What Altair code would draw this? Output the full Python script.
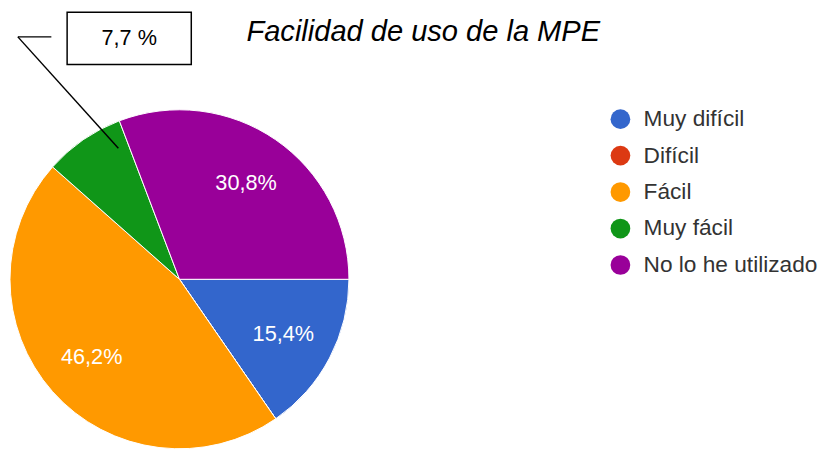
import math
import altair as alt
import pandas as pd

categories = ["Muy difícil", "Difícil", "Fácil", "Muy fácil", "No lo he utilizado"]
counts = [2, 0, 6, 1, 4]
colors = ["#3366CC", "#DC3912", "#FF9900", "#109618", "#990099"]
title_text = "Facilidad de uso de la MPE"

total = sum(counts)
pct = [c / total * 100 for c in counts]
labels = [f"{p:.1f}%".replace(".", ",") if p >= 10 else "" for p in pct]
callout_text = f"{pct[3]:.1f} %".replace(".", ",")

df = pd.DataFrame({"cat": categories, "n": counts, "idx": list(range(len(categories))), "label": labels})

FONT = "Liberation Sans"
theta_scale = alt.Scale(range=[math.pi / 2, math.pi / 2 + 2 * math.pi])
cx, cy = 171, 272

base = alt.Chart(df).encode(
    theta=alt.Theta("n:Q", stack=True, scale=theta_scale),
    order=alt.Order("idx:Q"),
    x=alt.value(cx),
    y=alt.value(cy),
)

pie = base.mark_arc(outerRadius=172, stroke="white", strokeWidth=1).encode(
    color=alt.Color(
        "cat:N",
        sort=categories,
        scale=alt.Scale(domain=categories, range=colors),
        legend=alt.Legend(
            title=None,
            orient="none",
            legendX=607,
            legendY=98,
            symbolType="circle",
            symbolSize=400,
            symbolStrokeWidth=0,
            labelFontSize=23,
            labelFont=FONT,
            labelColor="#333333",
            labelOffset=12,
            labelLimit=400,
            rowPadding=13,
            padding=0,
        ),
    )
)

pie_text = base.mark_text(
    radius=119, fontSize=22, color="white", font=FONT
).encode(text="label:N")

title = alt.Chart(pd.DataFrame({"t": [title_text]})).mark_text(
    align="left", baseline="alphabetic", fontSize=29.5, fontStyle="italic", font=FONT, color="black"
).encode(x=alt.value(239), y=alt.value(30), text="t:N")

cdf = pd.DataFrame({"t": [callout_text]})
box = alt.Chart(cdf).mark_rect(fill="white", stroke="black", strokeWidth=1.5).encode(
    x=alt.value(57), x2=alt.value(183), y=alt.value(1), y2=alt.value(54)
)
box_text = alt.Chart(cdf).mark_text(fontSize=22, font=FONT, color="black", baseline="alphabetic").encode(
    x=alt.value(120), y=alt.value(34), text="t:N"
)
line1 = alt.Chart(cdf).mark_rule(color="black", strokeWidth=1.5).encode(
    x=alt.value(41), x2=alt.value(7), y=alt.value(26), y2=alt.value(26)
)
line2 = alt.Chart(cdf).mark_rule(color="black", strokeWidth=1.5).encode(
    x=alt.value(7), x2=alt.value(109), y=alt.value(26), y2=alt.value(139)
)

chart = alt.layer(pie, pie_text, title, box, box_text, line1, line2).properties(
    width=814, height=437, padding=0
).configure_view(stroke=None)

chart.save("out.html", embed_options={"renderer": "svg", "actions": False})
